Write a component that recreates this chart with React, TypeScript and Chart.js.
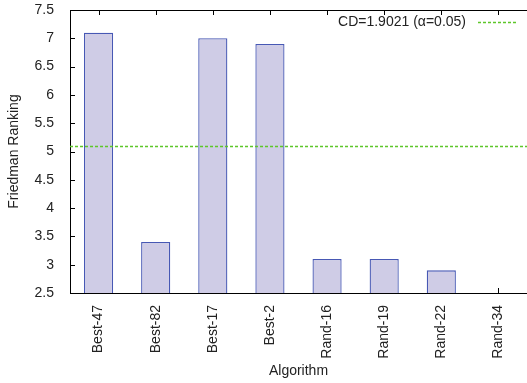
import React, { useEffect, useRef } from "react";
import { Chart, registerables } from "chart.js";

Chart.register(...registerables);

const categories = ["Best-47", "Best-82", "Best-17", "Best-2", "Rand-16", "Rand-19", "Rand-22", "Rand-34"];
const rankings = [7.1, 3.4, 7.0, 6.9, 3.1, 3.1, 2.9, 2.5];
const cdThreshold = 5.1;
const cdLabel = "CD=1.9021 (α=0.05)";
const yMin = 2.5;
const yMax = 7.5;
const yStep = 0.5;
const xTitle = "Algorithm";
const yTitle = "Friedman Ranking";

const FONT = "'Liberation Sans', Arial, Helvetica, sans-serif";
const TEXT = "#222222";
const FS = 14;

const framePlugin = {
  id: "gnuplotFrame",
  beforeDatasetsDraw(chart: any) {
    const { ctx, chartArea, scales } = chart;
    const x = scales.x;
    ctx.save();
    ctx.strokeStyle = "#000";
    ctx.lineWidth = 1;
    ctx.beginPath();
    for (let i = 0; i < categories.length; i++) {
      const px = Math.round(x.getPixelForValue(i)) + 0.5;
      ctx.moveTo(px, chartArea.bottom);
      ctx.lineTo(px, chartArea.bottom - 5);
    }
    ctx.stroke();
    ctx.restore();
  },
  afterDatasetsDraw(chart: any) {
    const { ctx, chartArea, scales } = chart;
    const x = scales.x;
    const y = scales.y;
    ctx.save();
    ctx.strokeStyle = "#000";
    ctx.lineWidth = 1;
    ctx.beginPath();
    ctx.moveTo(chartArea.left, Math.round(chartArea.top) + 0.5);
    ctx.lineTo(chartArea.right, Math.round(chartArea.top) + 0.5);
    for (let i = 0; i < categories.length; i++) {
      const px = Math.round(x.getPixelForValue(i)) + 0.5;
      ctx.moveTo(px, chartArea.top);
      ctx.lineTo(px, chartArea.top + 5);
    }
    for (let v = yMin; v <= yMax + 1e-9; v += yStep) {
      const py = Math.round(y.getPixelForValue(v)) + 0.5;
      ctx.moveTo(chartArea.left, py);
      ctx.lineTo(chartArea.left + 5, py);
    }
    ctx.stroke();

    const cy = Math.round(y.getPixelForValue(cdThreshold)) + 0.5;
    ctx.strokeStyle = "#5ec72a";
    ctx.lineWidth = 1.5;
    ctx.setLineDash([3, 2]);
    ctx.beginPath();
    ctx.moveTo(chartArea.left, cy);
    ctx.lineTo(chartArea.right, cy);
    ctx.stroke();
    ctx.restore();
  },
  afterDraw(chart: any) {
    const { ctx, chartArea } = chart;
    ctx.save();
    const ly = chartArea.top + 12;
    const sampleEnd = chartArea.right - 11;
    const sampleStart = sampleEnd - 38;
    ctx.font = `${FS}px ${FONT}`;
    ctx.fillStyle = TEXT;
    ctx.textAlign = "right";
    ctx.textBaseline = "middle";
    ctx.fillText(cdLabel, sampleStart - 12, ly);
    ctx.strokeStyle = "#5ec72a";
    ctx.lineWidth = 1.5;
    ctx.setLineDash([3, 2]);
    ctx.beginPath();
    ctx.moveTo(sampleStart, Math.round(ly) + 0.5);
    ctx.lineTo(sampleEnd, Math.round(ly) + 0.5);
    ctx.stroke();
    ctx.restore();
  },
};

export default function App() {
  const canvasRef = useRef<HTMLCanvasElement | null>(null);

  useEffect(() => {
    if (!canvasRef.current) return;
    const chart = new Chart(canvasRef.current, {
      type: "bar",
      data: {
        labels: categories,
        datasets: [
          {
            label: "Friedman Ranking",
            data: rankings,
            backgroundColor: "#cfcce6",
            borderColor: "#4758b4",
            borderWidth: 1.3,
            borderSkipped: "bottom",
            barPercentage: 0.51,
            categoryPercentage: 1,
          },
        ],
      },
      options: {
        animation: false,
        responsive: true,
        maintainAspectRatio: false,
        layout: { padding: { top: 10, right: 0, left: 0, bottom: 0 } },
        plugins: {
          legend: { display: false },
          tooltip: { enabled: false },
        },
        scales: {
          x: {
            offset: true,
            grid: { display: false },
            border: { display: true, color: "#000", width: 1 },
            ticks: {
              color: TEXT,
              font: { family: FONT, size: FS },
              minRotation: 90,
              maxRotation: 90,
              padding: 4,
              autoSkip: false,
            },
            title: {
              display: true,
              text: xTitle,
              color: TEXT,
              font: { family: FONT, size: FS },
              padding: { top: 0, bottom: 3 },
            },
            afterFit(scale: any) {
              scale.height = 90;
              scale.paddingLeft = 0;
              scale.paddingRight = 0;
            },
          },
          y: {
            min: yMin,
            max: yMax,
            grid: { display: false },
            border: { display: true, color: "#000", width: 1 },
            ticks: {
              stepSize: yStep,
              color: TEXT,
              font: { family: FONT, size: FS },
              padding: 8,
              callback: (v: any) => String(v),
            },
            title: {
              display: true,
              text: yTitle,
              color: TEXT,
              font: { family: FONT, size: FS },
              padding: { top: 6, bottom: 0 },
            },
            afterFit(scale: any) {
              scale.width = 70;
              scale.paddingTop = 0;
              scale.paddingBottom = 0;
            },
          },
        },
      },
      plugins: [framePlugin],
    });
    return () => chart.destroy();
  }, []);

  return (
    <div style={{ position: "fixed", left: 0, top: 0, width: 527, height: 383, background: "#fff" }}>
      <canvas ref={canvasRef} />
    </div>
  );
}
